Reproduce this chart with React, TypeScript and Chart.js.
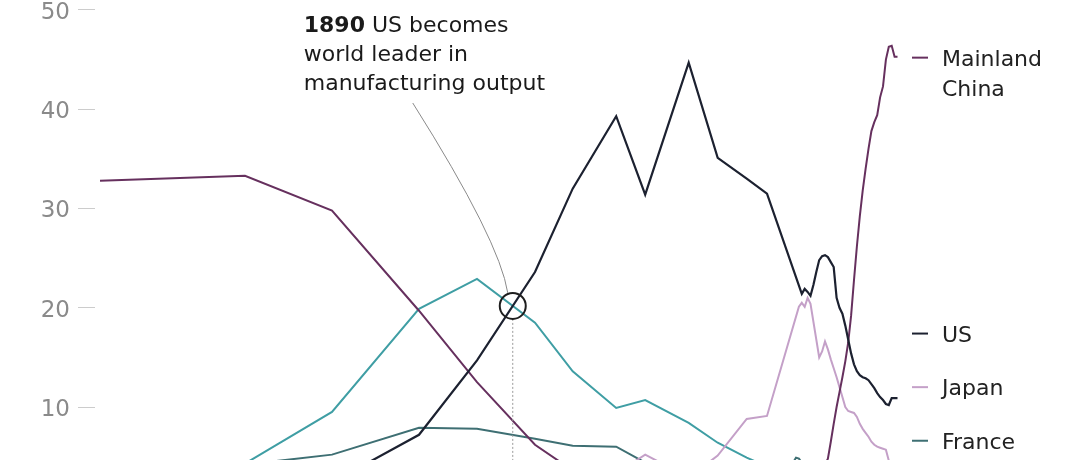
import React, { useEffect, useRef } from "react";
import { Chart, registerables } from "chart.js";

Chart.register(...registerables);

// Benchmark years (historical estimates)
const benchYears = [1750, 1800, 1830, 1860, 1880, 1900, 1913, 1928, 1938, 1953, 1963, 1973, 1980];
const chinaBench = [32.8, 33.3, 29.8, 19.7, 12.5, 6.2, 3.6, 3.4, 3.1, 2.3, 3.5, 3.9, 4.0];
const usBench = [0.1, 0.8, 2.4, 7.2, 14.7, 23.6, 32.0, 39.3, 31.4, 44.7, 35.1, 33.0, 31.5];
const ukBench = [1.9, 4.3, 9.5, 19.9, 22.9, 18.5, 13.6, 9.9, 10.7, 8.4, 6.4, 4.9, 4.0];
const franceBench = [4.0, 4.2, 5.2, 7.9, 7.8, 6.8, 6.1, 6.0, 4.4, 3.2, 3.8, 3.5, 3.3];
const japanBench = [3.8, 3.5, 2.8, 2.6, 2.4, 2.4, 2.7, 3.3, 5.2, 2.9, 5.1, 8.8, 9.1];

// Later annual readings
const chinaLateYears = [1990, 2000, 2001, 2002, 2003, 2004, 2005, 2006, 2007, 2008, 2009, 2010, 2011, 2012, 2013, 2014, 2015, 2016, 2017, 2018, 2019, 2020, 2021, 2022, 2023, 2024, 2025];
const chinaLate = [3.2, 4.2, 4.8, 6.5, 8.3, 10.0, 11.5, 13.0, 14.6, 16.5, 19.2, 22.8, 26.2, 29.2, 31.8, 34.0, 36.0, 37.8, 38.7, 39.4, 41.2, 42.3, 45.0, 46.3, 46.4, 45.3, 45.3];

const usLateYears = [1992, 1993, 1994, 1995, 1996, 1997, 1998, 1999, 2000, 2001, 2002, 2003, 2004, 2005, 2006, 2007, 2008, 2009, 2010, 2011, 2012, 2013, 2014, 2015, 2016, 2017, 2018, 2019, 2020, 2021, 2022, 2023, 2024, 2025];
const usLate = [21.4, 21.9, 21.6, 21.2, 22.3, 23.6, 24.8, 25.2, 25.3, 25.1, 24.6, 24.1, 21.0, 20.0, 19.4, 18.2, 16.8, 15.4, 14.3, 13.6, 13.2, 13.0, 12.9, 12.7, 12.3, 11.9, 11.4, 11.0, 10.7, 10.3, 10.2, 10.9, 10.9, 10.9];

const japanLateYears = [1991, 1992, 1993, 1994, 1995, 1998, 1999, 2000, 2001, 2002, 2003, 2004, 2005, 2006, 2007, 2008, 2009, 2010, 2011, 2012, 2013, 2014, 2015, 2016, 2017, 2018, 2019, 2020, 2021, 2022, 2023, 2024, 2025];
const japanLate = [20.1, 20.5, 20.1, 21.0, 20.4, 15.0, 15.6, 16.6, 15.8, 14.8, 13.9, 13.0, 12.0, 11.0, 10.0, 9.6, 9.5, 9.4, 9.0, 8.3, 7.8, 7.4, 7.0, 6.5, 6.2, 6.0, 5.9, 5.8, 5.7, 4.6, 4.4, 4.2, 4.1];

const franceLateYears = [1989, 1990, 1991, 1992, 2000, 2010, 2025];
const franceLate = [4.4, 4.9, 4.8, 4.4, 3.9, 3.2, 2.4];

const ukLateYears = [1990, 2000, 2010, 2025];
const ukLate = [3.6, 3.3, 2.6, 2.0];

const yTicks = [10, 20, 30, 40, 50];

const seriesNames = ["US", "Mainland China", "Japan", "France", "UK"];
const seriesColors = ["#1c2130", "#66305e", "#c4a0c8", "#3e6f73", "#3f9ea4"];
const labelLines = [["US"], ["Mainland", "China"], ["Japan"], ["France"]];
const labelValues = [17.4, 45.2, 12.0, 6.6];

const annotationBold = "1890";
const annotationLines = [" US becomes", "world leader in", "manufacturing output"];

const FONT = "'DejaVu Sans', sans-serif";

function pts(years: number[], vals: number[], ly: number[], lv: number[]) {
  const a = years.map((x, i) => ({ x, y: vals[i] }));
  const b = ly.map((x, i) => ({ x, y: lv[i] }));
  return a.concat(b);
}

function crossing() {
  for (let i = 0; i < benchYears.length - 1; i++) {
    const d0 = usBench[i] - ukBench[i];
    const d1 = usBench[i + 1] - ukBench[i + 1];
    if (d0 < 0 && d1 >= 0) {
      const t = -d0 / (d1 - d0);
      return {
        x: benchYears[i] + t * (benchYears[i + 1] - benchYears[i]),
        y: usBench[i] + t * (usBench[i + 1] - usBench[i]),
      };
    }
  }
  return { x: 1890, y: 20 };
}

const overlay = {
  id: "overlay",
  afterDatasetsDraw(chart: any) {
    const { ctx, chartArea, scales } = chart;
    const xs = scales.x;
    const ys = scales.y;
    const c = crossing();
    const cx = xs.getPixelForValue(c.x);
    const cy = ys.getPixelForValue(c.y);
    const r = 13;
    ctx.save();
    // dashed drop line
    ctx.strokeStyle = "#9a9a9a";
    ctx.lineWidth = 1;
    ctx.setLineDash([2, 2]);
    ctx.beginPath();
    ctx.moveTo(cx, cy + r);
    ctx.lineTo(cx, chartArea.bottom);
    ctx.stroke();
    ctx.setLineDash([]);
    // circle
    ctx.strokeStyle = "#1e1e1e";
    ctx.lineWidth = 2;
    ctx.beginPath();
    ctx.arc(cx, cy, r, 0, Math.PI * 2);
    ctx.stroke();
    // leader
    ctx.strokeStyle = "#8a8a8a";
    ctx.lineWidth = 1;
    ctx.beginPath();
    ctx.moveTo(cx - 100, chartArea.top + 103);
    ctx.quadraticCurveTo(cx - 13, cy - 65, cx - 5, cy - r);
    ctx.stroke();
    // annotation text
    const tx = cx - 209;
    ctx.fillStyle = "#1a1a1a";
    ctx.textBaseline = "alphabetic";
    ctx.textAlign = "left";
    ctx.font = `bold 22px ${FONT}`;
    ctx.fillText(annotationBold, tx, chartArea.top + 32);
    const bw = ctx.measureText(annotationBold).width;
    ctx.font = `22px ${FONT}`;
    ctx.fillText(annotationLines[0], tx + bw, chartArea.top + 32);
    ctx.fillText(annotationLines[1], tx, chartArea.top + 61);
    ctx.fillText(annotationLines[2], tx, chartArea.top + 90);

    // right-side labels
    labelLines.forEach((lines, i) => {
      const py = ys.getPixelForValue(labelValues[i]);
      ctx.strokeStyle = seriesColors[i];
      ctx.lineWidth = 2;
      ctx.beginPath();
      ctx.moveTo(chartArea.right + 12, py);
      ctx.lineTo(chartArea.right + 28, py);
      ctx.stroke();
      ctx.fillStyle = "#222";
      ctx.font = `22px ${FONT}`;
      lines.forEach((t, j) => {
        ctx.fillText(t, chartArea.right + 42, py + 8 + j * 30);
      });
    });
    ctx.restore();
  },
};

export default function App() {
  const ref = useRef<HTMLCanvasElement | null>(null);
  useEffect(() => {
    if (!ref.current) return;
    const seriesData = [
      pts(benchYears, usBench, usLateYears, usLate),
      pts(benchYears, chinaBench, chinaLateYears, chinaLate),
      pts(benchYears, japanBench, japanLateYears, japanLate),
      pts(benchYears, franceBench, franceLateYears, franceLate),
      pts(benchYears, ukBench, ukLateYears, ukLate),
    ];
    const chart = new Chart(ref.current, {
      type: "line",
      data: {
        datasets: seriesData.map((d, i) => ({
          label: seriesNames[i],
          data: d,
          borderColor: seriesColors[i],
          borderWidth: i === 0 ? 2.2 : 2,
          pointRadius: 0,
          tension: 0,
          fill: false,
          clip: 0,
        })),
      },
      options: {
        animation: false,
        responsive: true,
        maintainAspectRatio: false,
        layout: { padding: { left: 0, right: 180, top: 0, bottom: 0 } },
        plugins: { legend: { display: false }, tooltip: { enabled: false } },
        scales: {
          x: {
            type: "linear",
            display: false,
            min: 1750 - 5 / 2.9,
            max: 1750 - 5 / 2.9 + 805 / 2.9,
          },
          y: {
            type: "linear",
            min: 50 - 450 / 9.925,
            max: 50 + 10 / 9.925,
            afterBuildTicks: (s: any) => {
              s.ticks = yTicks.map((v) => ({ value: v }));
            },
            afterFit: (s: any) => {
              s.width = 95;
              s.paddingTop = 0;
              s.paddingBottom = 0;
            },
            border: { display: false },
            grid: {
              drawOnChartArea: false,
              drawTicks: true,
              tickLength: 17,
              tickColor: "#cccccc",
              tickWidth: 1,
            },
            ticks: {
              autoSkip: false,
              padding: 8,
              labelOffset: 3,
              color: "#8a8a8a",
              font: { family: FONT, size: 23 },
            },
          },
        },
      },
      plugins: [overlay],
    });
    return () => chart.destroy();
  }, []);
  return (
    <div style={{ position: "fixed", left: 0, top: 0, width: 1080, height: 460, background: "#fff" }}>
      <canvas ref={ref} />
    </div>
  );
}
